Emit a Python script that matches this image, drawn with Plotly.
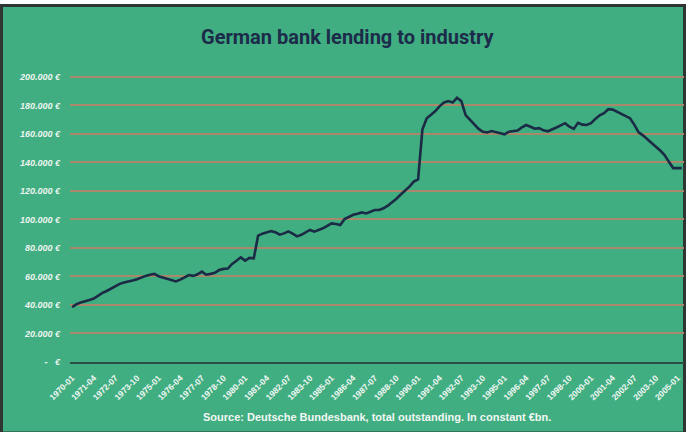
import plotly.graph_objects as go

# Quarterly labels (1970-01 ... ), one per quarter
years_start = 1970
n_points = 142
quarters = [f"{years_start + i // 4}-{['01', '04', '07', '10'][i % 4]}" for i in range(n_points)]

# Lending to industry, constant € (millions)
lending = [
    38.5, 40.5, 41.8, 42.5, 43.5, 44.5, 46.5, 48.5, 49.8, 51.5,
    53.5, 54.8, 55.8, 56.3, 57.2, 58.0, 59.3, 60.4, 61.2, 61.8,
    60.2, 59.3, 58.5, 57.2, 56.5, 57.8, 59.5, 61.0, 60.4, 61.5,
    63.4, 61.2, 61.8, 62.5, 64.5, 65.3, 65.5, 68.8, 71.0, 73.4,
    71.1, 73.0, 72.7, 88.6, 90.0, 91.0, 91.8, 91.0, 89.3, 90.2,
    91.6, 90.0, 88.1, 89.2, 90.8, 92.6, 91.4, 92.5, 93.8, 95.5,
    97.2, 96.8, 96.1, 100.3, 101.8, 103.3, 104.0, 104.9, 104.2, 105.5,
    106.6, 106.6, 107.8, 109.6, 111.8, 114.5, 117.5, 120.0, 123.0, 126.5,
    128.0, 163.0, 171.0, 173.5, 176.0, 179.5, 182.0, 183.0, 182.0, 185.3,
    183.0, 173.2, 170.0, 166.5, 163.5, 161.5, 161.0, 162.0, 161.2, 160.5,
    159.7, 161.5, 162.0, 162.3, 164.5, 166.2, 165.0, 163.6, 164.0, 162.5,
    161.8, 163.0, 164.5, 166.0, 167.5, 165.0, 163.5, 167.8, 166.5, 166.2,
    167.5, 170.5, 173.0, 174.5, 177.3, 177.0, 175.5, 174.1, 173.0, 171.0,
    166.5, 161.0, 159.0, 156.5, 154.0, 151.0, 148.3, 145.2, 140.5, 136.0,
    136.0, 136.0,
]
lending = [v * 1000 for v in lending]

tick_idx = list(range(0, n_points, 5))
tick_text = [quarters[i] for i in tick_idx]

y_vals = list(range(0, 200001, 20000))
y_text = [("-   €" if v == 0 else f"{v:,}".replace(",", ".") + " €") for v in y_vals]

title_text = "German bank lending to industry"
source_text = "Source: Deutsche Bundesbank, total outstanding. In constant €bn."

W, H = 686, 432
L, R, T, B = 70, 2, 74, 70
pw, ph = W - L - R, H - T - B

def px(x):
    return (x - L) / pw

def py(y):
    return (H - B - y) / ph

fig = go.Figure()
fig.add_trace(go.Scatter(
    x=list(range(n_points)), y=lending, mode="lines",
    line=dict(color="#1b2a45", width=2.6), hoverinfo="skip",
))

fig.add_shape(type="rect", xref="paper", yref="paper",
              x0=px(1.5), x1=px(684.5), y0=py(433), y1=py(5.5),
              fillcolor="#40ae81", line=dict(color="#2e3532", width=3), layer="below")

fig.add_annotation(text=f"<b>{title_text}</b>", xref="paper", yref="paper",
                   x=px(348), y=py(37), xanchor="center", yanchor="middle", showarrow=False,
                   font=dict(family="Roboto", size=20, color="#1c2b4a"))
fig.add_annotation(text=f"<b>{source_text}</b>", xref="paper", yref="paper",
                   x=px(377), y=py(417), xanchor="center", yanchor="middle", showarrow=False,
                   font=dict(family="Liberation Sans, Arial", size=11, color="#f2f7f4"))

fig.update_layout(
    width=W, height=H, margin=dict(l=L, r=R, t=T, b=B),
    paper_bgcolor="white", plot_bgcolor="rgba(0,0,0,0)",
    showlegend=False,
    xaxis=dict(range=[-0.5, n_points - 0.5], tickmode="array", tickvals=tick_idx, ticktext=tick_text,
               tickangle=-45, showgrid=False, zeroline=False, showline=True,
               linecolor="#2a4e44", linewidth=1.5, ticks="outside", ticklen=6,
               tickcolor="rgba(0,0,0,0)",
               tickfont=dict(family="Liberation Sans, Arial", size=8.5, color="#f2f7f4", weight="bold"),
               fixedrange=True),
    yaxis=dict(range=[0, 202000], tickmode="array", tickvals=y_vals, ticktext=y_text,
               showgrid=True, gridcolor="#a9896a", gridwidth=1.5, zeroline=False, showline=False,
               ticks="", ticklabelstandoff=9,
               tickfont=dict(family="Liberation Sans, Arial", size=9, color="#eef5f1",
                             style="italic", weight="bold"),
               fixedrange=True),
)

fig.write_html("out.html")
